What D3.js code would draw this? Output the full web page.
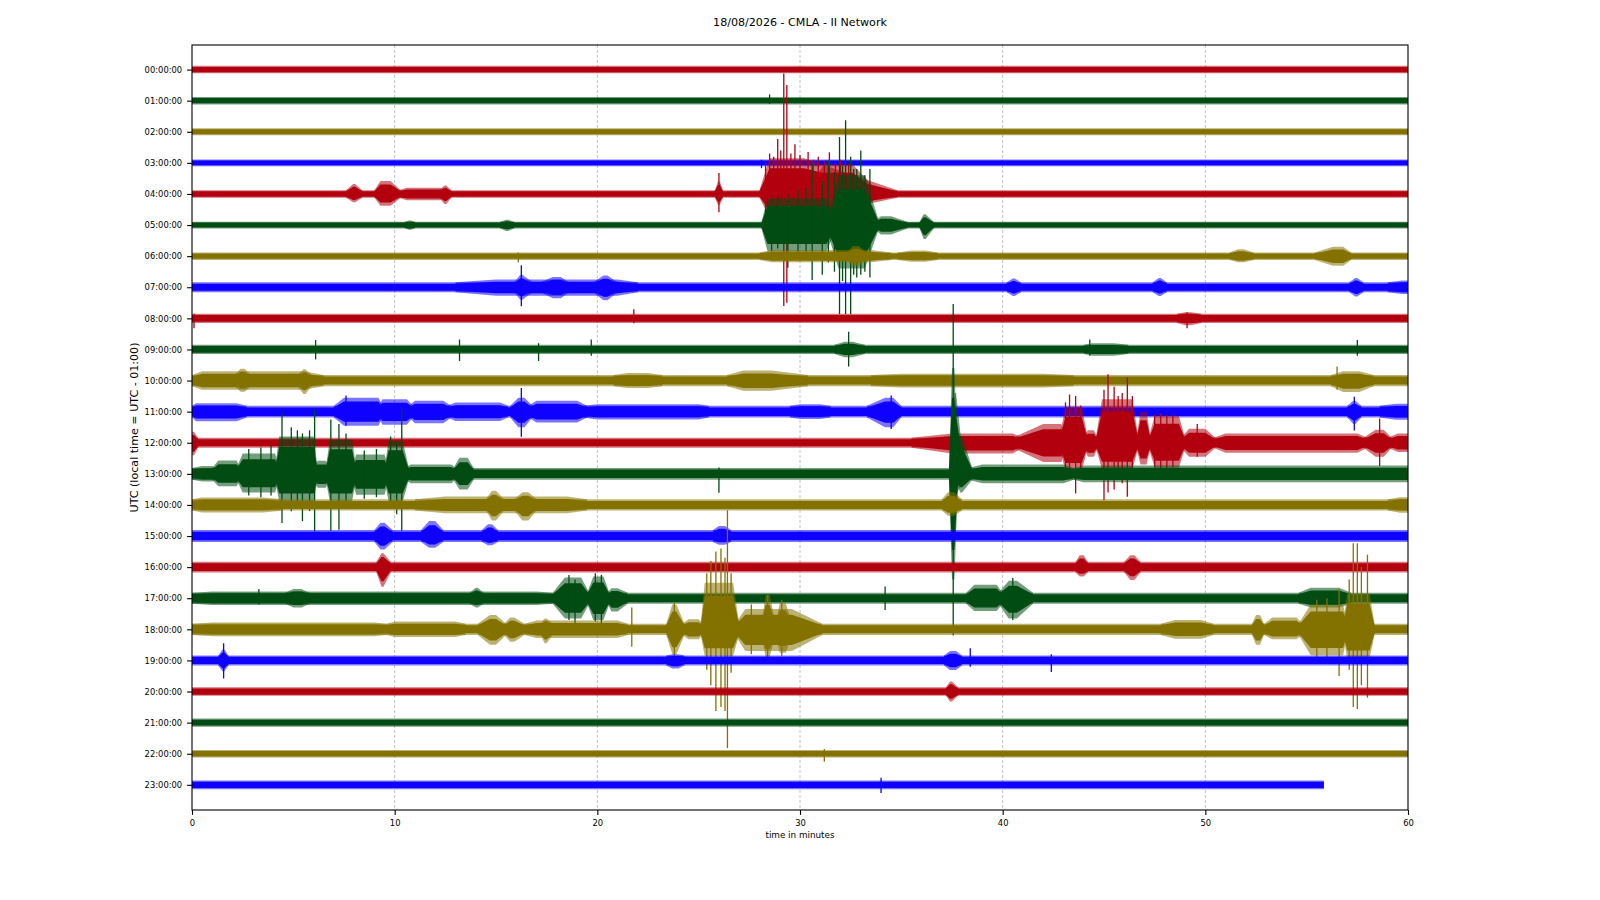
<!DOCTYPE html>
<html>
<head>
<meta charset="utf-8">
<script src="https://cdn.jsdelivr.net/npm/d3@7"></script>
<style>
  html, body { margin: 0; padding: 0; background: #fff; }
  svg { display: block; font-family: 'DejaVu Sans', sans-serif; }
  .tick text { font-size: 8.4px; fill: #000; }
  .tick line { stroke: #000; stroke-width: 1.1; }
</style>
</head>
<body>
<svg id="chart" width="1600" height="900"></svg>
<script>
'use strict';

// one trace per hour, 0..60 minutes each
var hours = ['00:00:00', '01:00:00', '02:00:00', '03:00:00', '04:00:00', '05:00:00',
  '06:00:00', '07:00:00', '08:00:00', '09:00:00', '10:00:00', '11:00:00',
  '12:00:00', '13:00:00', '14:00:00', '15:00:00', '16:00:00', '17:00:00',
  '18:00:00', '19:00:00', '20:00:00', '21:00:00', '22:00:00', '23:00:00'];

var minuteTicks = [0, 10, 20, 30, 40, 50, 60];

// last minute with data in each row
var traceEnd = [60, 60, 60, 60, 60, 60, 60, 60, 60, 60, 60, 60,
  60, 60, 60, 60, 60, 60, 60, 60, 60, 60, 60, 55.85];

// background noise half-amplitude per row (in row units)
var noiseAmp = [0.12, 0.12, 0.11, 0.11, 0.12, 0.11, 0.12, 0.16, 0.15, 0.15, 0.18, 0.19,
  0.16, 0.19, 0.18, 0.19, 0.17, 0.18, 0.18, 0.16, 0.14, 0.13, 0.12, 0.14];

// bursts: [row, start, full from, full to, end, amplitude up, amplitude down]
var bursts = [
  [4, 7.6, 7.95, 8.05, 8.4, 0.32, 0.27],
  [4, 9.0, 9.3, 9.8, 10.3, 0.42, 0.38],
  [4, 10.2, 10.6, 12.2, 12.7, 0.2, 0.2],
  [4, 12.2, 12.45, 12.55, 12.8, 0.27, 0.32],
  [4, 25.8, 25.95, 26.05, 26.2, 0.4, 0.35],
  [4, 28.0, 28.5, 30.2, 34.8, 1.15, 0.75],
  [4, 30.2, 31.2, 32.6, 33.8, 0.95, 0.75],
  [5, 10.5, 10.7, 10.8, 11.0, 0.15, 0.15],
  [5, 15.2, 15.5, 15.6, 15.9, 0.17, 0.19],
  [5, 28.1, 28.4, 31.3, 31.8, 0.85, 0.85],
  [5, 31.3, 31.9, 33.2, 33.9, 1.6, 1.4],
  [5, 33.6, 34.0, 34.5, 35.3, 0.28, 0.3],
  [5, 35.9, 36.1, 36.2, 36.6, 0.35, 0.45],
  [6, 28.0, 28.6, 33.5, 34.5, 0.2, 0.2],
  [6, 32.3, 32.6, 32.9, 33.3, 0.33, 0.31],
  [6, 34.8, 35.5, 36.2, 36.8, 0.18, 0.18],
  [6, 51.2, 51.6, 51.9, 52.4, 0.22, 0.2],
  [6, 55.4, 56.3, 56.8, 57.2, 0.3, 0.31],
  [7, 13.0, 15.0, 21.0, 22.0, 0.25, 0.27],
  [7, 15.9, 16.2, 16.3, 16.8, 0.4, 0.4],
  [7, 17.2, 17.8, 18.2, 18.6, 0.33, 0.35],
  [7, 19.8, 20.3, 20.5, 21.0, 0.38, 0.42],
  [7, 40.2, 40.5, 40.6, 40.9, 0.28, 0.28],
  [7, 47.4, 47.7, 47.8, 48.1, 0.3, 0.28],
  [7, 57.1, 57.4, 57.5, 57.8, 0.3, 0.3],
  [7, 59.0, 59.7, 60, 60, 0.22, 0.22],
  [8, 48.6, 49.0, 49.3, 49.8, 0.2, 0.22],
  [9, 31.7, 32.2, 32.6, 33.2, 0.25, 0.25],
  [9, 44.0, 44.4, 45.5, 46.2, 0.2, 0.2],
  [10, 0, 0.5, 5.5, 6.5, 0.3, 0.3],
  [10, 2.1, 2.4, 2.6, 2.9, 0.38, 0.36],
  [10, 5.2, 5.5, 5.6, 5.9, 0.36, 0.43],
  [10, 20.8, 21.5, 22.5, 23.2, 0.24, 0.24],
  [10, 26.4, 27.2, 28.6, 30.4, 0.32, 0.33],
  [10, 33.5, 35, 42, 43.5, 0.22, 0.22],
  [10, 56.2, 56.8, 57.6, 58.3, 0.3, 0.37],
  [11, 0, 0.2, 2.2, 2.7, 0.27, 0.31],
  [11, 7.0, 7.5, 9.2, 9.4, 0.45, 0.45],
  [11, 9.2, 9.4, 10.6, 10.9, 0.4, 0.42],
  [11, 10.7, 11, 12.4, 12.8, 0.35, 0.37],
  [11, 12.6, 13, 15.2, 15.6, 0.29, 0.3],
  [11, 15.7, 16.1, 16.4, 16.8, 0.45, 0.5],
  [11, 16.6, 17, 19, 19.5, 0.35, 0.35],
  [11, 19.3, 20, 25, 25.5, 0.24, 0.25],
  [11, 29.5, 30, 31, 31.5, 0.24, 0.24],
  [11, 33.3, 34.2, 34.6, 35, 0.45, 0.5],
  [11, 57.0, 57.3, 57.4, 57.7, 0.35, 0.4],
  [11, 58.6, 59.4, 60, 60, 0.25, 0.26],
  [12, 0, 0, 0.1, 0.3, 0.35, 0.4],
  [12, 35.5, 37.5, 40.5, 41, 0.3, 0.35],
  [12, 40.5, 42, 42.9, 43.1, 0.6, 0.62],
  [12, 42.8, 43.1, 43.9, 44.2, 1.15, 0.9],
  [12, 44.0, 44.2, 44.5, 44.7, 0.4, 0.45],
  [12, 44.6, 44.9, 46.4, 46.7, 1.4, 0.85],
  [12, 46.6, 46.8, 47.1, 47.3, 1.0, 0.7],
  [12, 47.2, 47.5, 48.7, 49.0, 0.85, 0.8],
  [12, 48.8, 49.2, 50.0, 50.5, 0.45, 0.45],
  [12, 50.4, 51, 57.5, 58, 0.3, 0.32],
  [12, 57.8, 58.4, 58.8, 59.2, 0.42, 0.45],
  [12, 59.0, 59.5, 60, 60, 0.3, 0.3],
  [13, 0, 0.5, 1.0, 1.2, 0.25, 0.25],
  [13, 1.0, 1.3, 2.2, 2.4, 0.43, 0.4],
  [13, 2.2, 2.5, 4.1, 4.3, 0.65, 0.6],
  [13, 4.1, 4.3, 6.0, 6.2, 1.2, 0.88],
  [13, 6.0, 6.2, 6.6, 6.8, 0.42, 0.45],
  [13, 6.6, 6.8, 7.9, 8.1, 1.1, 0.88],
  [13, 7.9, 8.1, 9.5, 9.7, 0.62, 0.67],
  [13, 9.5, 9.7, 10.4, 10.7, 1.05, 0.88],
  [13, 10.5, 10.8, 12.8, 13, 0.3, 0.3],
  [13, 12.9, 13.2, 13.6, 13.9, 0.52, 0.5],
  [13, 37.35, 37.5, 37.62, 37.8, 3.4, 3.4],
  [13, 37.5, 37.62, 37.7, 38.1, 2.6, 0.67],
  [13, 37.7, 37.9, 38.0, 38.5, 1.2, 0.6],
  [13, 38.3, 39, 43, 43.5, 0.3, 0.3],
  [13, 43.5, 44, 60, 60, 0.27, 0.27],
  [14, 0, 0.5, 3.5, 4.5, 0.24, 0.24],
  [14, 11.0, 12.5, 18.5, 19.5, 0.27, 0.27],
  [14, 14.5, 14.8, 15.0, 15.4, 0.46, 0.5],
  [14, 15.9, 16.3, 16.6, 17.0, 0.41, 0.5],
  [14, 37.0, 37.3, 37.6, 38.0, 0.41, 0.35],
  [14, 59.0, 59.6, 60, 60, 0.25, 0.25],
  [15, 9.0, 9.3, 9.5, 9.9, 0.43, 0.43],
  [15, 11.3, 11.7, 12.0, 12.4, 0.48, 0.38],
  [15, 14.3, 14.6, 14.8, 15.1, 0.38, 0.3],
  [15, 25.7, 26.0, 26.3, 26.6, 0.32, 0.28],
  [16, 9.1, 9.35, 9.45, 9.8, 0.45, 0.63],
  [16, 43.6, 43.8, 44.0, 44.2, 0.38, 0.3],
  [16, 46.0, 46.3, 46.5, 46.8, 0.38, 0.41],
  [17, 0, 1, 17, 17.8, 0.22, 0.22],
  [17, 4.6, 5.0, 5.4, 5.8, 0.3, 0.3],
  [17, 13.7, 14, 14.1, 14.4, 0.34, 0.3],
  [17, 17.8, 18.4, 19.2, 19.6, 0.67, 0.65],
  [17, 19.5, 19.8, 20.3, 20.6, 0.7, 0.7],
  [17, 20.5, 20.7, 21.0, 21.5, 0.32, 0.43],
  [17, 38.2, 38.6, 39.7, 40.0, 0.43, 0.41],
  [17, 39.8, 40.3, 40.7, 41.5, 0.56, 0.65],
  [17, 54.6, 55.2, 56.6, 57.2, 0.34, 0.3],
  [18, 0, 1, 9, 9.6, 0.22, 0.22],
  [18, 9.6, 10, 13, 13.5, 0.25, 0.25],
  [18, 14.1, 14.7, 15.0, 15.5, 0.46, 0.5],
  [18, 15.4, 15.7, 15.9, 16.4, 0.38, 0.4],
  [18, 16.4, 17, 21, 21.5, 0.28, 0.28],
  [18, 17.2, 17.4, 17.5, 17.8, 0.35, 0.45],
  [18, 23.4, 23.7, 23.9, 24.3, 0.8, 0.8],
  [18, 24.2, 24.5, 25.0, 25.2, 0.32, 0.32],
  [18, 25.1, 25.3, 26.7, 27.0, 1.5, 0.85],
  [18, 26.8, 27.3, 29.6, 31.1, 0.65, 0.7],
  [18, 28.1, 28.3, 28.5, 28.8, 1.1, 0.88],
  [18, 28.8, 29.0, 29.3, 29.6, 0.84, 0.75],
  [18, 47.8, 48.5, 49.8, 50.4, 0.3, 0.3],
  [18, 52.3, 52.5, 52.7, 52.9, 0.46, 0.5],
  [18, 52.9, 53.3, 54.5, 54.8, 0.38, 0.32],
  [18, 54.6, 55.2, 56.8, 57.0, 0.8, 0.83],
  [18, 56.8, 57.0, 58.1, 58.35, 1.15, 0.95],
  [19, 1.3, 1.5, 1.6, 1.8, 0.35, 0.35],
  [19, 23.4, 23.7, 24.0, 24.3, 0.2, 0.26],
  [19, 37.1, 37.4, 37.7, 38.0, 0.3, 0.31],
  [20, 37.2, 37.4, 37.5, 37.8, 0.32, 0.32]
];

// single wiggles: [row, minute, amplitude up, amplitude down]
var spikes = [
  [1, 28.5, 0.2, 0.1],
  [3, 28.1, 0.1, 0.17],
  [4, 26.0, 0.67, 0.59],
  [4, 28.3, 1.0, 0.8],
  [4, 28.5, 1.3, 0.9],
  [4, 28.7, 1.2, 0.85],
  [4, 28.9, 1.77, 1.4],
  [4, 29.05, 1.4, 1.0],
  [4, 29.2, 3.87, 3.6],
  [4, 29.35, 3.5, 3.5],
  [4, 29.55, 1.3, 0.9],
  [4, 29.75, 1.6, 1.0],
  [4, 30.0, 1.25, 0.85],
  [4, 30.4, 1.35, 0.9],
  [4, 30.65, 1.1, 0.8],
  [4, 30.9, 1.2, 0.8],
  [4, 31.2, 1.05, 0.8],
  [4, 31.45, 1.34, 1.0],
  [4, 31.75, 1.0, 0.8],
  [4, 32.0, 1.1, 0.8],
  [4, 32.4, 0.95, 0.75],
  [5, 28.6, 0.9, 0.85],
  [5, 28.9, 0.95, 0.75],
  [5, 29.4, 1.0, 1.37],
  [5, 29.9, 1.1, 1.0],
  [5, 30.3, 1.2, 1.1],
  [5, 30.6, 1.97, 1.77],
  [5, 31.1, 1.4, 1.6],
  [5, 31.4, 2.07, 1.2],
  [5, 31.7, 1.7, 1.5],
  [5, 31.95, 2.83, 2.86],
  [5, 32.1, 1.9, 1.8],
  [5, 32.25, 3.37, 2.86],
  [5, 32.5, 2.2, 2.86],
  [5, 32.65, 1.8, 1.6],
  [5, 32.8, 1.8, 1.69],
  [5, 33.0, 2.4, 1.6],
  [5, 33.2, 1.6, 1.5],
  [5, 33.45, 1.8, 1.69],
  [6, 16.1, 0.12, 0.2],
  [7, 16.25, 0.71, 0.61],
  [8, 0.1, 0.15, 0.32],
  [8, 21.8, 0.29, 0.16],
  [8, 49.1, 0.2, 0.32],
  [9, 6.1, 0.3, 0.32],
  [9, 13.2, 0.32, 0.37],
  [9, 17.1, 0.2, 0.37],
  [9, 19.7, 0.32, 0.2],
  [9, 32.4, 0.57, 0.55],
  [9, 44.3, 0.32, 0.2],
  [9, 57.5, 0.3, 0.2],
  [10, 56.5, 0.45, 0.3],
  [11, 7.6, 0.52, 0.45],
  [11, 16.25, 0.76, 0.81],
  [11, 34.5, 0.52, 0.56],
  [11, 57.35, 0.48, 0.61],
  [12, 43.1, 1.3, 1.0],
  [12, 43.3, 1.55, 0.95],
  [12, 43.6, 1.5, 1.63],
  [12, 43.85, 1.2, 1.1],
  [12, 45.0, 1.7, 1.85],
  [12, 45.2, 2.2, 1.6],
  [12, 45.5, 1.8, 1.5],
  [12, 45.7, 1.5, 1.2],
  [12, 45.9, 1.6, 1.3],
  [12, 46.15, 2.1, 1.74],
  [12, 46.4, 1.5, 1.2],
  [12, 47.5, 0.9, 0.8],
  [12, 47.8, 0.95, 0.85],
  [12, 48.1, 0.9, 0.85],
  [12, 48.4, 0.9, 0.8],
  [12, 49.6, 0.6, 0.45],
  [12, 58.6, 0.78, 0.75],
  [13, 2.8, 0.8, 0.7],
  [13, 3.4, 0.85, 0.75],
  [13, 3.9, 0.9, 0.7],
  [13, 4.44, 1.95, 1.58],
  [13, 4.9, 1.5, 1.2],
  [13, 5.2, 1.4, 1.1],
  [13, 5.45, 1.3, 1.52],
  [13, 5.8, 1.4, 1.2],
  [13, 6.05, 2.05, 1.85],
  [13, 6.85, 1.75, 1.83],
  [13, 7.25, 1.6, 1.8],
  [13, 7.6, 1.3, 1.1],
  [13, 8.5, 0.75, 0.8],
  [13, 9.1, 0.8, 0.75],
  [13, 9.8, 1.2, 1.1],
  [13, 10.1, 1.05, 1.3],
  [13, 10.35, 2.1, 1.83],
  [13, 26.0, 0.2, 0.61],
  [13, 37.56, 5.46, 5.2],
  [17, 3.3, 0.3, 0.2],
  [17, 18.6, 0.75, 0.7],
  [17, 18.9, 0.6, 0.8],
  [17, 19.9, 0.8, 0.75],
  [17, 20.2, 0.75, 0.8],
  [17, 34.2, 0.38, 0.38],
  [17, 40.5, 0.65, 0.7],
  [18, 21.7, 0.7, 0.56],
  [18, 23.8, 0.85, 0.85],
  [18, 25.4, 1.8, 1.3],
  [18, 25.6, 2.2, 1.8],
  [18, 25.85, 2.5, 2.63],
  [18, 26.1, 2.6, 2.5],
  [18, 26.3, 2.3, 2.63],
  [18, 26.42, 3.83, 3.82],
  [18, 26.6, 1.8, 1.4],
  [18, 27.6, 0.8, 0.8],
  [18, 28.4, 1.1, 0.9],
  [18, 29.1, 0.95, 0.85],
  [18, 55.5, 0.95, 0.95],
  [18, 56.0, 1.0, 1.0],
  [18, 56.6, 1.3, 1.5],
  [18, 57.1, 1.6, 1.3],
  [18, 57.3, 2.77, 2.5],
  [18, 57.5, 2.77, 2.56],
  [18, 57.7, 2.0, 1.8],
  [18, 58.0, 2.4, 2.2],
  [19, 1.56, 0.55, 0.58],
  [19, 38.4, 0.39, 0.2],
  [19, 42.4, 0.2, 0.37],
  [22, 31.2, 0.15, 0.26],
  [23, 34.0, 0.23, 0.26]
];

var COLORS = ['#B2000F', '#004C12', '#847200', '#0E01FF'];

var PLOT = { left: 192, right: 1408, top: 45, bottom: 810 },
  CORE = 0.72,      // share of each envelope drawn fully opaque
  FRINGE = 0.55;    // opacity of the outer part

var svg = d3.select('#chart');

var x = d3.scaleLinear()
  .domain([0, 60])
  .range([PLOT.left, PLOT.right]);

var y = d3.scaleLinear()
  .domain([-0.79, 23.81])
  .range([PLOT.top, PLOT.bottom]);

var line = d3.line()
  .x(function(p) { return x(p[0]); })
  .y(function(p) { return y(p[1]); });

svg.append('defs').append('clipPath')
  .attr('id', 'plot-clip')
  .append('rect')
  .attr('x', PLOT.left)
  .attr('y', PLOT.top)
  .attr('width', PLOT.right - PLOT.left)
  .attr('height', PLOT.bottom - PLOT.top);

// vertical grid
svg.append('g')
  .attr('class', 'grid')
  .selectAll('line')
  .data(minuteTicks.slice(1, -1))
  .enter()
  .append('line')
  .attr('x1', function(d) { return x(d); })
  .attr('x2', function(d) { return x(d); })
  .attr('y1', PLOT.top)
  .attr('y2', PLOT.bottom)
  .attr('stroke', '#b0b0b0')
  .attr('stroke-width', 0.8)
  .attr('stroke-dasharray', '3,2');

var traces = svg.append('g')
  .attr('clip-path', 'url(#plot-clip)');

// closed outline of an envelope: [minute, up, down] points
function envelope(row, pts) {
  var top = pts.map(function(p) { return [p[0], row - p[1]]; }),
    bottom = pts.slice().reverse().map(function(p) { return [p[0], row + p[2]]; });
  return line(top.concat(bottom)) + 'Z';
}

hours.forEach(function(label, row) {
  var color = COLORS[row % 4],
    base = noiseAmp[row],
    end = traceEnd[row],
    g = traces.append('g').attr('class', 'trace');

  var shapes = [[[0, base, base], [end, base, base]]];

  bursts.filter(function(b) { return b[0] === row; }).forEach(function(b) {
    shapes.push([[b[1], base, base], [b[2], b[5], b[6]], [b[3], b[5], b[6]], [b[4], base, base]]);
  });

  // faint outer fringe, then the dense core
  shapes.forEach(function(pts) {
    g.append('path')
      .attr('d', envelope(row, pts))
      .attr('fill', color)
      .attr('fill-opacity', FRINGE);
  });
  shapes.forEach(function(pts) {
    g.append('path')
      .attr('d', envelope(row, pts.map(function(p) { return [p[0], p[1] * CORE, p[2] * CORE]; })))
      .attr('fill', color);
  });

  g.selectAll('line')
    .data(spikes.filter(function(s) { return s[0] === row; }))
    .enter()
    .append('line')
    .attr('x1', function(s) { return x(s[1]); })
    .attr('x2', function(s) { return x(s[1]); })
    .attr('y1', function(s) { return y(row - s[2]); })
    .attr('y2', function(s) { return y(row + s[3]); })
    .attr('stroke', color)
    .attr('stroke-width', 1.3);
});

// axes
svg.append('g')
  .attr('transform', 'translate(0,' + PLOT.bottom + ')')
  .call(d3.axisBottom(x).tickValues(minuteTicks).tickSize(4.9).tickPadding(4.9))
  .call(function(g) { g.select('.domain').remove(); });

svg.append('g')
  .attr('transform', 'translate(' + PLOT.left + ',0)')
  .call(d3.axisLeft(y)
    .tickValues(d3.range(hours.length))
    .tickFormat(function(i) { return hours[i]; })
    .tickSize(4.9)
    .tickPadding(4.9))
  .call(function(g) { g.select('.domain').remove(); });

svg.selectAll('.tick text').attr('font-family', 'DejaVu Sans');

svg.append('rect')
  .attr('x', PLOT.left)
  .attr('y', PLOT.top)
  .attr('width', PLOT.right - PLOT.left)
  .attr('height', PLOT.bottom - PLOT.top)
  .attr('fill', 'none')
  .attr('stroke', '#000')
  .attr('stroke-width', 1.1);

// labels
svg.append('text')
  .attr('x', (PLOT.left + PLOT.right) / 2)
  .attr('y', 25.7)
  .attr('text-anchor', 'middle')
  .attr('font-size', '11.1px')
  .text('18/08/2026 - CMLA - II Network');

svg.append('text')
  .attr('x', (PLOT.left + PLOT.right) / 2)
  .attr('y', 837.5)
  .attr('text-anchor', 'middle')
  .attr('font-size', '8.8px')
  .text('time in minutes');

svg.append('text')
  .attr('transform', 'translate(137.8,' + (PLOT.top + PLOT.bottom) / 2 + ') rotate(-90)')
  .attr('text-anchor', 'middle')
  .attr('font-size', '11.1px')
  .text('UTC (local time = UTC - 01:00)');
</script>
</body>
</html>
